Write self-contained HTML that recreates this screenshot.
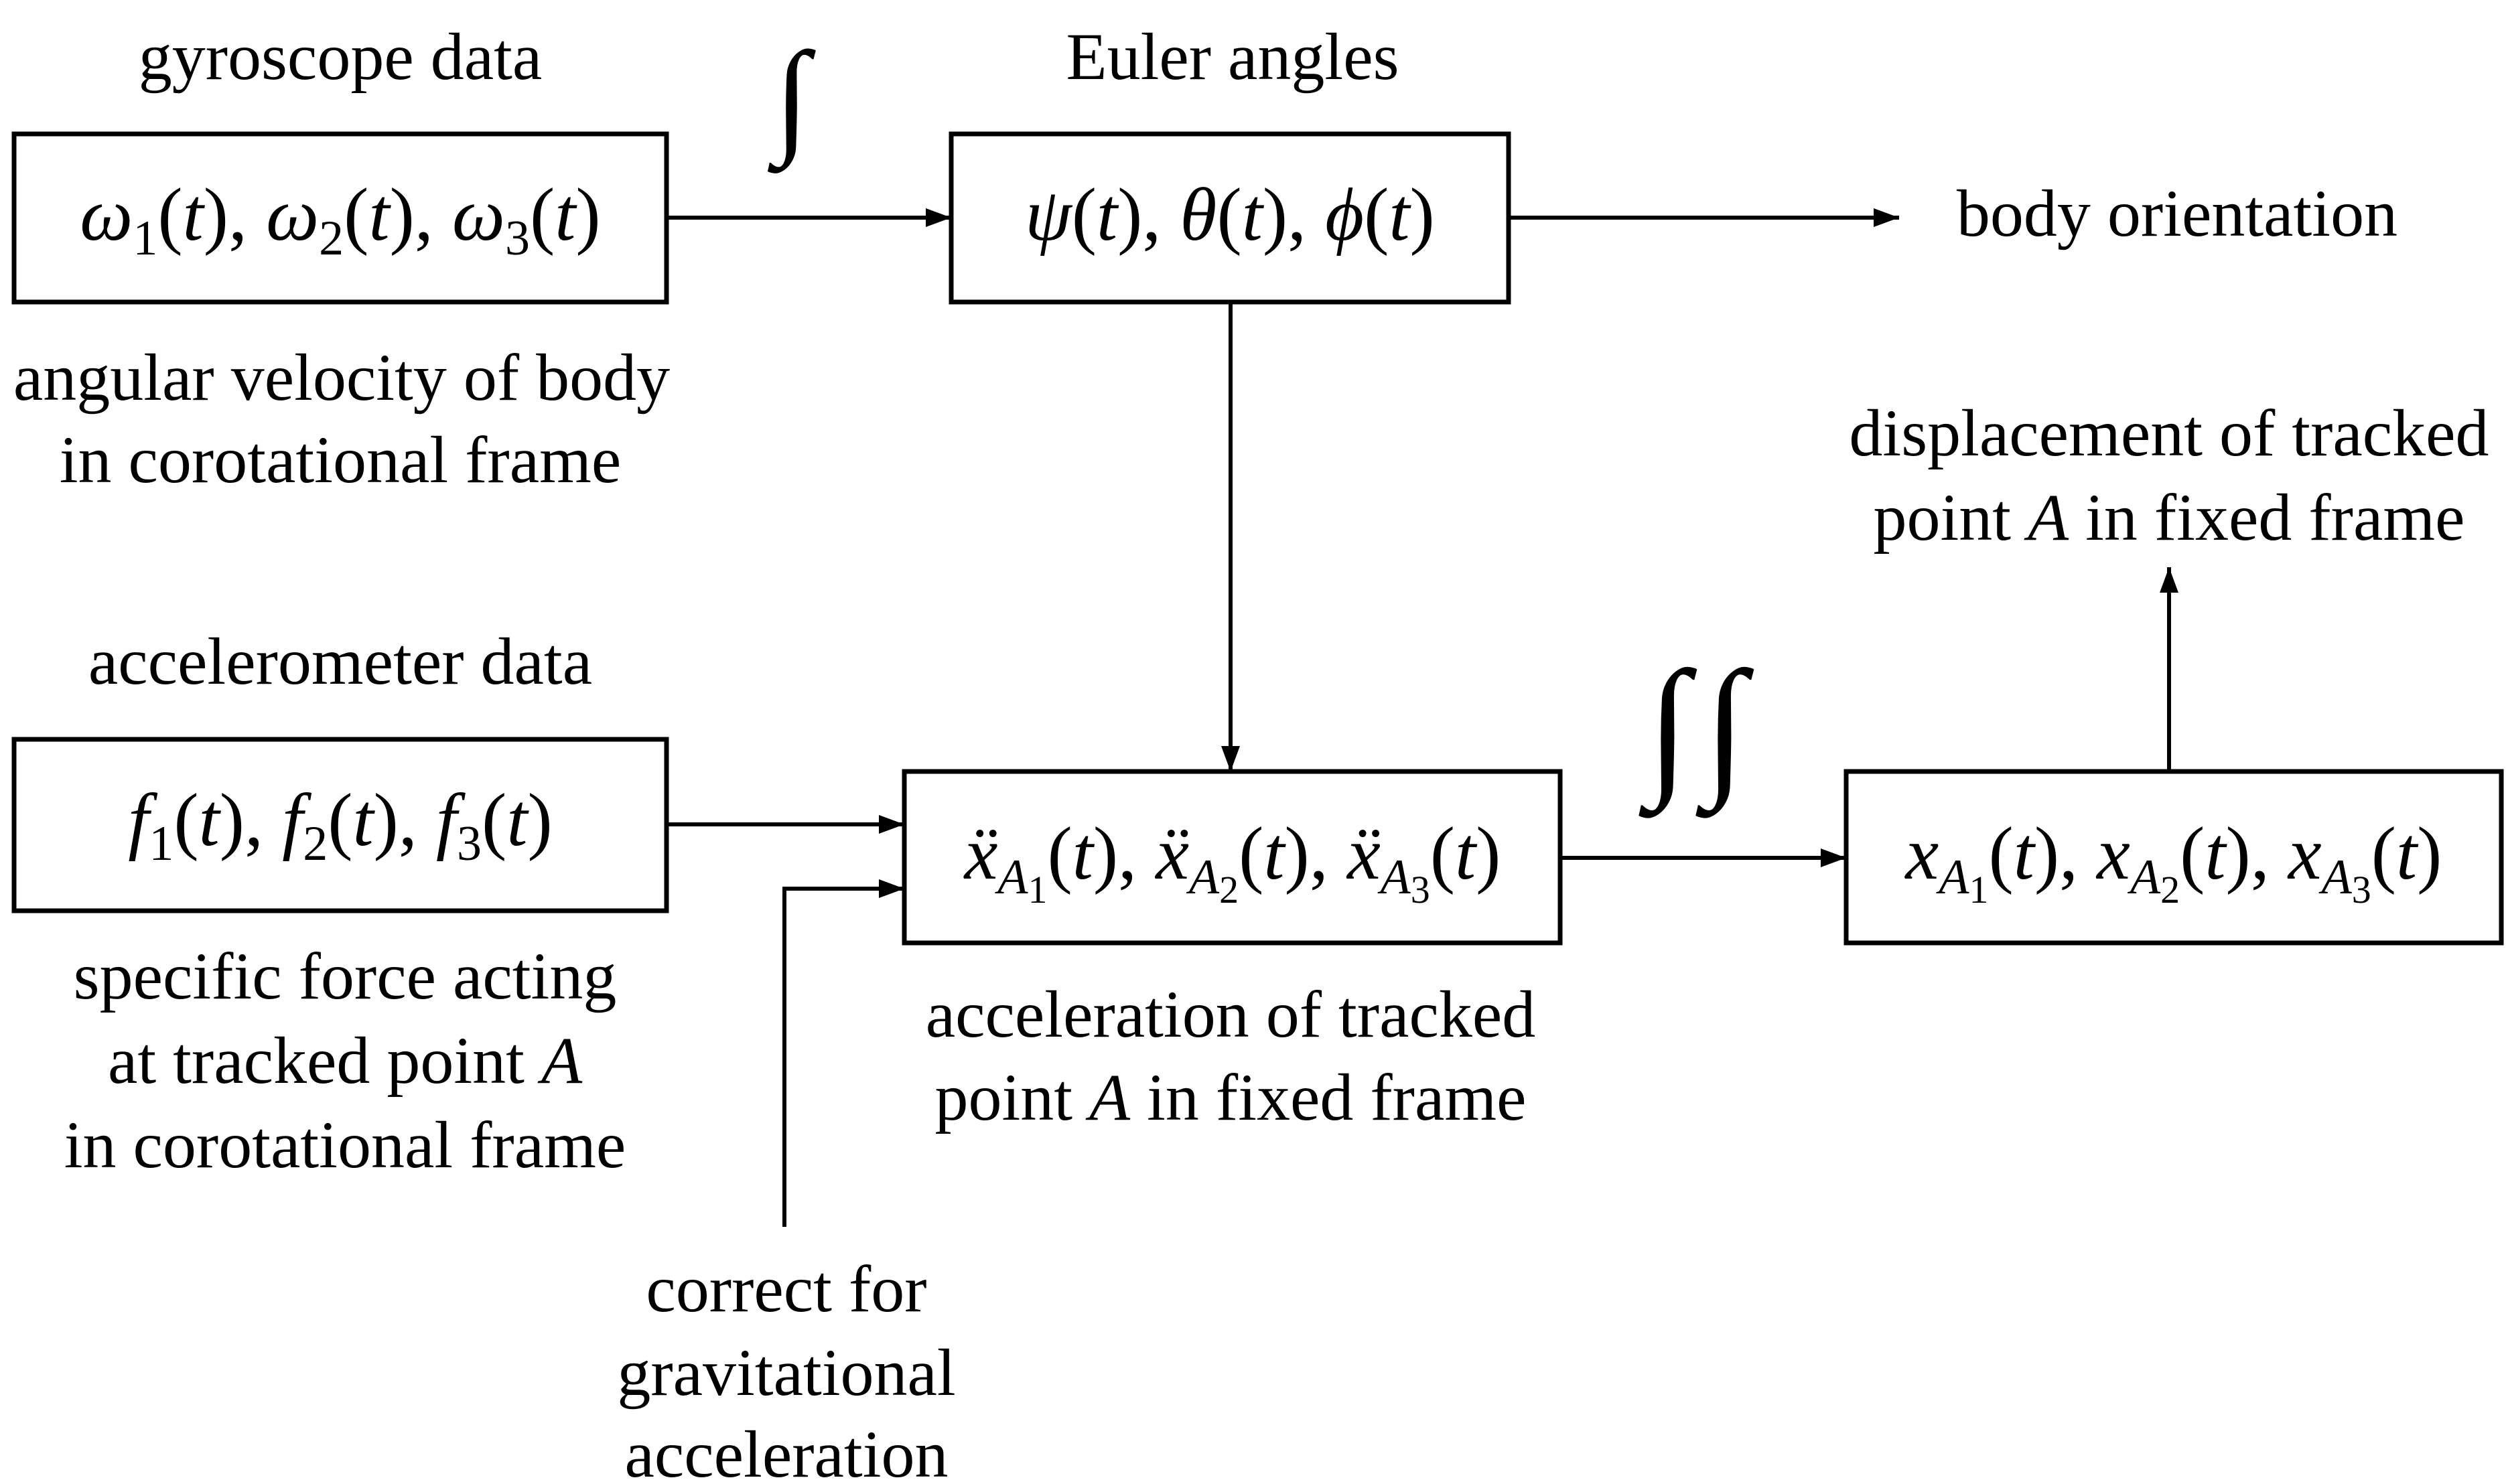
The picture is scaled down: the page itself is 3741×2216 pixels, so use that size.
<!DOCTYPE html>
<html><head><meta charset="utf-8"><style>
html,body{margin:0;padding:0;background:#fff;}
svg{display:block;}
text{font-family:"Liberation Serif",serif;fill:#000;}
.l{font-size:100px;text-anchor:middle;}
.m{font-size:112px;font-style:italic;text-anchor:middle;}
.s{font-size:74px;}
.u{font-style:normal;}
</style></head><body>
<svg width="3741" height="2216" viewBox="0 0 3741 2216" xmlns="http://www.w3.org/2000/svg">
<defs><marker id="a" markerWidth="38" markerHeight="28" refX="38" refY="14" orient="auto" markerUnits="userSpaceOnUse"><path d="M0,0 L38,14 L0,28 Z" fill="#000"/></marker></defs>
<g fill="none" stroke="#000" stroke-width="7">
<rect x="21" y="200" width="974" height="251"/>
<rect x="1420" y="200" width="832" height="251"/>
<rect x="21" y="1104" width="974" height="256"/>
<rect x="1350" y="1152" width="979" height="256"/>
<rect x="2756" y="1152" width="978" height="256"/>
</g>
<g stroke="#000" stroke-width="6" fill="none" marker-end="url(#a)">
<line x1="995" y1="325" x2="1420" y2="325"/>
<line x1="2252" y1="325" x2="2835" y2="325"/>
<line x1="1837" y1="451" x2="1837" y2="1152"/>
<line x1="995" y1="1231" x2="1350" y2="1231"/>
<polyline points="1171,1832 1171,1327 1350,1327"/>
<line x1="2329" y1="1281" x2="2756" y2="1281"/>
<line x1="3238" y1="1152" x2="3238" y2="847"/>
</g>
<text class="l" x="508" y="118">gyroscope data</text>
<text class="l" x="1840" y="118">Euler angles</text>
<text class="m" x="1182" y="208" style="font-size:190px">∫</text>
<text class="l" x="3250" y="352">body orientation</text>
<text class="l" x="510" y="597">angular velocity of body</text>
<text class="l" x="508" y="720">in corotational frame</text>
<text class="l" x="3238" y="680">displacement of tracked</text>
<text class="l" x="3238" y="806">point <tspan font-style="italic">A</tspan> in fixed frame</text>
<text class="l" x="508" y="1021">accelerometer data</text>
<text class="m" x="2490" y="1160" style="font-size:230px">∫</text>
<text class="m" x="2575" y="1160" style="font-size:230px">∫</text>
<text class="l" x="515" y="1491">specific force acting</text>
<text class="l" x="515" y="1617">at tracked point <tspan font-style="italic">A</tspan></text>
<text class="l" x="515" y="1743">in corotational frame</text>
<text class="l" x="1837" y="1548">acceleration of tracked</text>
<text class="l" x="1837" y="1672">point <tspan font-style="italic">A</tspan> in fixed frame</text>
<text class="l" x="1174" y="1958">correct for</text>
<text class="l" x="1174" y="2083">gravitational</text>
<text class="l" x="1174" y="2205">acceleration</text>
<text class="m" x="508" y="358">ω<tspan class="s u" dy="22">1</tspan><tspan dy="-22" class="u">(</tspan>t<tspan class="u">), </tspan>ω<tspan class="s u" dy="22">2</tspan><tspan dy="-22" class="u">(</tspan>t<tspan class="u">), </tspan>ω<tspan class="s u" dy="22">3</tspan><tspan dy="-22" class="u">(</tspan>t<tspan class="u">)</tspan></text>
<text class="m" x="1836" y="358">ψ<tspan class="u">(</tspan>t<tspan class="u">), </tspan>θ<tspan class="u">(</tspan>t<tspan class="u">), </tspan>ϕ<tspan class="u">(</tspan>t<tspan class="u">)</tspan></text>
<text class="m" x="508" y="1262">f<tspan class="s u" dy="22">1</tspan><tspan dy="-22" class="u">(</tspan>t<tspan class="u">), </tspan>f<tspan class="s u" dy="22">2</tspan><tspan dy="-22" class="u">(</tspan>t<tspan class="u">), </tspan>f<tspan class="s u" dy="22">3</tspan><tspan dy="-22" class="u">(</tspan>t<tspan class="u">)</tspan></text>
<text class="m" x="1840" y="1312">ẍ<tspan class="s" dy="22">A</tspan><tspan class="u" style="font-size:58px" dy="14">1</tspan><tspan dy="-36" class="u">(</tspan>t<tspan class="u">), </tspan>ẍ<tspan class="s" dy="22">A</tspan><tspan class="u" style="font-size:58px" dy="14">2</tspan><tspan dy="-36" class="u">(</tspan>t<tspan class="u">), </tspan>ẍ<tspan class="s" dy="22">A</tspan><tspan class="u" style="font-size:58px" dy="14">3</tspan><tspan dy="-36" class="u">(</tspan>t<tspan class="u">)</tspan></text>
<text class="m" x="3245" y="1312">x<tspan class="s" dy="22">A</tspan><tspan class="u" style="font-size:58px" dy="14">1</tspan><tspan dy="-36" class="u">(</tspan>t<tspan class="u">), </tspan>x<tspan class="s" dy="22">A</tspan><tspan class="u" style="font-size:58px" dy="14">2</tspan><tspan dy="-36" class="u">(</tspan>t<tspan class="u">), </tspan>x<tspan class="s" dy="22">A</tspan><tspan class="u" style="font-size:58px" dy="14">3</tspan><tspan dy="-36" class="u">(</tspan>t<tspan class="u">)</tspan></text>
</svg>
</body></html>
